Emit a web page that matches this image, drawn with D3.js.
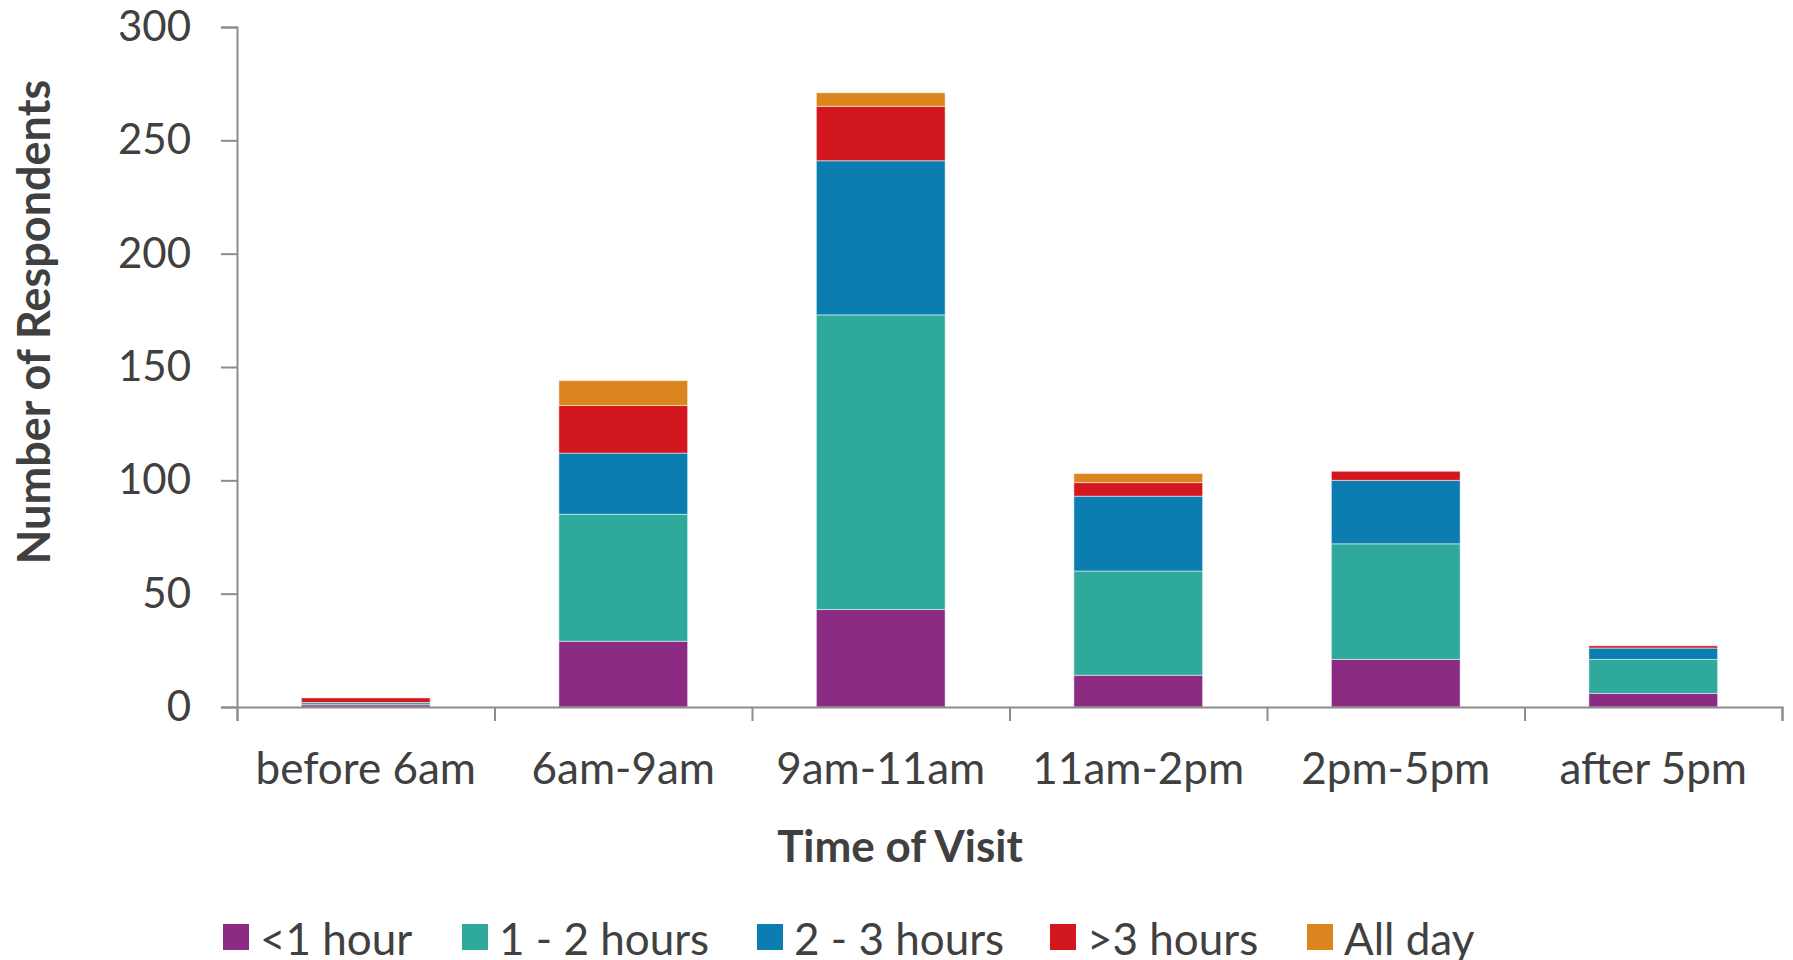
<!DOCTYPE html>
<html>
<head>
<meta charset="utf-8">
<script src="https://cdn.jsdelivr.net/npm/d3@7"></script>
<style>
  body { margin: 0; background: #fff; }
  text { font-family: Lato, "Open Sans", sans-serif; fill: #404040; }
</style>
</head>
<body>
<svg id="chart"></svg>
<script>
const categories = ["before 6am", "6am-9am", "9am-11am", "11am-2pm", "2pm-5pm", "after 5pm"];
const seriesNames = ["<1 hour", "1 - 2 hours", "2 - 3 hours", ">3 hours", "All day"];
const lessThan1 = [1, 29, 43, 14, 21, 6];
const oneToTwo = [1, 56, 130, 46, 51, 15];
const twoToThree = [0, 27, 68, 33, 28, 5];
const moreThan3 = [2, 21, 24, 6, 4, 1];
const allDay = [0, 11, 6, 4, 0, 0];
const yTicks = [0, 50, 100, 150, 200, 250, 300];
const colors = ["#8b2c82", "#2ea99c", "#0c7db1", "#d3171f", "#dc841e"];

const width = 1793, height = 960;
const margin = { top: 27, right: 11, bottom: 253, left: 237 };
const plotW = width - margin.left - margin.right,
      plotH = height - margin.top - margin.bottom;

const svg = d3.select("#chart").attr("width", width).attr("height", height);
const g = svg.append("g").attr("transform", `translate(${margin.left},${margin.top})`);

const allSeries = [lessThan1, oneToTwo, twoToThree, moreThan3, allDay];
const table = categories.map((c, i) => {
    const row = { cat: c };
    seriesNames.forEach((s, j) => row[s] = allSeries[j][i]);
    return row;
});
const stacked = d3.stack().keys(seriesNames)(table);

const x = d3.scaleBand().domain(categories).range([0, plotW])
    .paddingInner(0.5).paddingOuter(0.25);
const y = d3.scaleLinear().domain([0, 300]).range([plotH, 0]);
const color = d3.scaleOrdinal().domain(seriesNames).range(colors);

// bars
g.selectAll("g.layer")
    .data(stacked)
    .join("g")
    .attr("class", "layer")
    .attr("fill", d => color(d.key))
    .selectAll("rect")
    .data(d => d)
    .join("rect")
    .attr("x", d => x(d.data.cat))
    .attr("width", x.bandwidth())
    .attr("y", d => y(d[1]))
    .attr("height", d => y(d[0]) - y(d[1]))
    .attr("stroke", "rgba(255,255,255,0.5)")
    .attr("stroke-width", 1);

// y axis
const yAxis = g.append("g")
    .call(d3.axisLeft(y).tickValues(yTicks).tickSize(16).tickPadding(30));
yAxis.select(".domain").attr("stroke", "#8c8c8c").attr("stroke-width", 2);
yAxis.selectAll(".tick line").attr("stroke", "#8c8c8c").attr("stroke-width", 2);
yAxis.selectAll(".tick text").style("font-size", "42px").attr("fill", "#404040")
    .style("font-family", "Lato, 'Open Sans', sans-serif");

// x axis: labels centred, ticks at category boundaries
const xb = d3.scaleLinear().domain([0, categories.length]).range([0, plotW]);
const xTickAxis = g.append("g")
    .attr("transform", `translate(0,${plotH})`)
    .call(d3.axisBottom(xb).ticks(categories.length).tickSize(14).tickFormat(""));
xTickAxis.select(".domain").attr("stroke", "#8c8c8c").attr("stroke-width", 2);
xTickAxis.selectAll(".tick line").attr("stroke", "#8c8c8c").attr("stroke-width", 2);

const xAxis = g.append("g")
    .attr("transform", `translate(0,${plotH})`)
    .call(d3.axisBottom(x).tickSize(0).tickPadding(46));
xAxis.select(".domain").remove();
xAxis.selectAll(".tick text").style("font-size", "44px").attr("fill", "#404040")
    .style("font-family", "Lato, 'Open Sans', sans-serif");

// axis titles
svg.append("text")
    .attr("x", 900).attr("y", 862)
    .attr("text-anchor", "middle")
    .style("font-size", "44px").style("font-weight", "bold")
    .text("Time of Visit");

svg.append("text")
    .attr("transform", "translate(50,322) rotate(-90)")
    .attr("text-anchor", "middle")
    .style("font-size", "45px").style("font-weight", "bold")
    .text("Number of Respondents");

// legend
const legendX = [223, 462, 757, 1050, 1307];
const legend = svg.selectAll("g.legend")
    .data(seriesNames)
    .join("g")
    .attr("class", "legend")
    .attr("transform", (d, i) => `translate(${legendX[i]},924)`);
legend.append("rect")
    .attr("width", 26).attr("height", 26)
    .attr("fill", d => color(d));
legend.append("text")
    .attr("x", 37).attr("y", 31)
    .style("font-size", "44px")
    .text(d => d);
</script>
</body>
</html>
